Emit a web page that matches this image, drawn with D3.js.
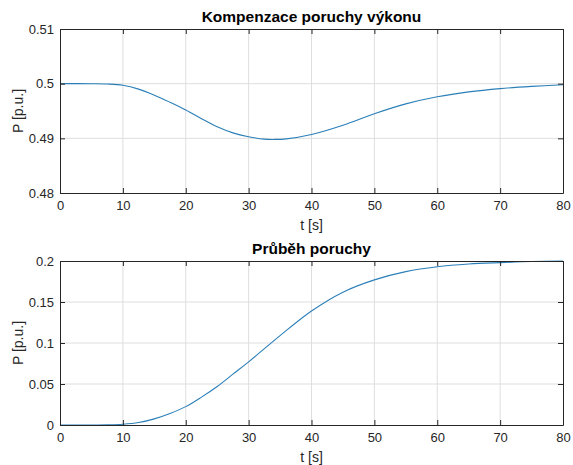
<!DOCTYPE html>
<html>
<head>
<meta charset="utf-8">
<script src="https://cdn.jsdelivr.net/npm/d3@7"></script>
<style>
  body { margin: 0; background: #fff; }
  svg { display: block; font-family: "Liberation Sans", Arial, sans-serif; }
</style>
</head>
<body>
<svg id="chart" width="573" height="465"></svg>
<script>
// time samples [s]
const tTop = [0, 5, 7.5, 10, 12.5, 15, 17.5, 20, 22.5, 25, 27.5, 30, 32.5, 34, 36, 40, 45, 50, 55, 60, 65, 70, 75, 80]
// compensated power [p.u.]
const pTop = [0.5, 0.49999, 0.49993, 0.4997, 0.4990, 0.4979, 0.4966, 0.4952, 0.4936, 0.4921, 0.4910, 0.4903, 0.48985, 0.4898, 0.4899, 0.4907, 0.4924, 0.4945, 0.4963, 0.4976, 0.4985, 0.4991, 0.4995, 0.4998]

const tBot = [0, 5, 7.5, 10, 12.5, 15, 17.5, 20, 22.5, 25, 27.5, 30, 35, 40, 45, 50, 55, 60, 65, 70, 75, 80]
// disturbance [p.u.]
const pBot = [0, 0, 0.0002, 0.0009, 0.003, 0.0075, 0.014, 0.0224, 0.034, 0.047, 0.062, 0.077, 0.109, 0.139, 0.162, 0.177, 0.187, 0.193, 0.1963, 0.198, 0.1993, 0.1998]

const xTicks = [0, 10, 20, 30, 40, 50, 60, 70, 80]
const yTicksTop = [0.48, 0.49, 0.5, 0.51]
const yTicksBot = [0, 0.05, 0.1, 0.15, 0.2]

const svg = d3.select('#chart')
const left = 60, right = 563

function panel(top, bottom, yDomain, yTicks, ts, ps, title, fmt) {
    const x = d3.scaleLinear().domain([0, 80]).range([left, right])
    const y = d3.scaleLinear().domain(yDomain).range([bottom, top])
    const g = svg.append('g')

    // grid
    g.selectAll('.gx').data(xTicks.slice(1, -1)).join('line')
        .attr('x1', d => x(d)).attr('x2', d => x(d))
        .attr('y1', top).attr('y2', bottom)
        .attr('stroke', '#dedede').attr('stroke-width', 1)
    g.selectAll('.gy').data(yTicks.slice(1, -1)).join('line')
        .attr('x1', left).attr('x2', right)
        .attr('y1', d => y(d)).attr('y2', d => y(d))
        .attr('stroke', '#dedede').attr('stroke-width', 1)

    // data line
    const line = d3.line().x(d => x(d[0])).y(d => y(d[1])).curve(d3.curveCatmullRom.alpha(0.5))
    g.append('path')
        .datum(ts.map((t, i) => [t, ps[i]]))
        .attr('d', line)
        .attr('fill', 'none')
        .attr('stroke', '#2b7fb8')
        .attr('stroke-width', 1.1)

    // axes, ticks inward, box on
    g.append('g').attr('transform', `translate(0,${bottom})`)
        .call(d3.axisBottom(x).tickValues(xTicks).tickSizeInner(-5).tickSizeOuter(0).tickPadding(8))
    g.append('g').attr('transform', `translate(0,${top})`)
        .call(d3.axisTop(x).tickValues(xTicks).tickSizeInner(-5).tickSizeOuter(0).tickFormat(''))
    g.append('g').attr('transform', `translate(${left},0)`)
        .call(d3.axisLeft(y).tickValues(yTicks).tickSizeInner(-5).tickSizeOuter(0).tickPadding(6).tickFormat(fmt))
    g.append('g').attr('transform', `translate(${right},0)`)
        .call(d3.axisRight(y).tickValues(yTicks).tickSizeInner(-5).tickSizeOuter(0).tickFormat(''))
    g.selectAll('.domain').attr('stroke', '#262626')
    g.selectAll('.tick line').attr('stroke', '#262626')
    g.selectAll('.tick text').attr('fill', '#262626').attr('font-size', 13)
        .attr('font-family', '"Liberation Sans", Arial, sans-serif')

    g.append('text')
        .attr('x', (left + right) / 2).attr('y', top - 7)
        .attr('text-anchor', 'middle')
        .attr('font-size', 15.5).attr('font-weight', 'bold')
        .attr('fill', '#000')
        .text(title)
    g.append('text')
        .attr('x', (left + right) / 2).attr('y', bottom + 37)
        .attr('text-anchor', 'middle')
        .attr('font-size', 14).attr('fill', '#262626')
        .text('t [s]')
    g.append('text')
        .attr('transform', `translate(23,${(top + bottom) / 2})rotate(-90)`)
        .attr('text-anchor', 'middle')
        .attr('font-size', 14).attr('fill', '#262626')
        .text('P [p.u.]')
}

const fmtTop = d => d === 0.5 ? '0.5' : d3.format('.2f')(d)
const fmtBot = d => d === 0 ? '0' : String(+d.toFixed(2))

panel(29, 193, [0.48, 0.51], yTicksTop, tTop, pTop, 'Kompenzace poruchy výkonu', fmtTop)
panel(261, 425, [0, 0.2], yTicksBot, tBot, pBot, 'Průběh poruchy', fmtBot)
</script>
</body>
</html>
